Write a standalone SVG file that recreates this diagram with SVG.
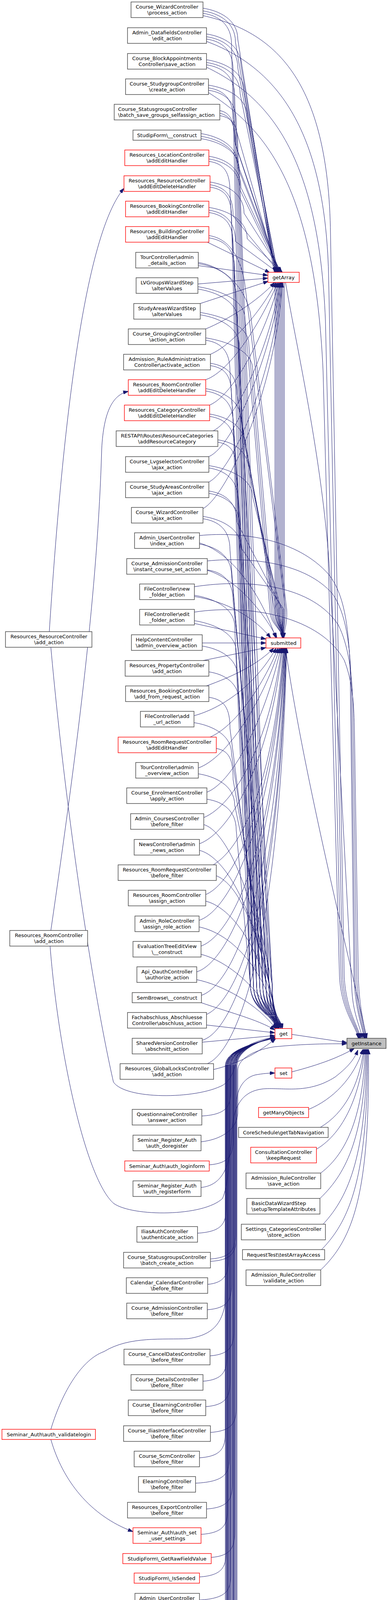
<svg xmlns="http://www.w3.org/2000/svg" width="992" height="5536" viewBox="0 0 992 5536">
<defs>
<marker id="a" markerWidth="13" markerHeight="9" refX="13" refY="4.5" orient="auto" markerUnits="userSpaceOnUse"><path d="M0,0 L13,4.5 L0,9 z" fill="#191970" stroke="#191970" stroke-width="1"/></marker>
<style>
.n rect{fill:#fff;stroke:#404040;stroke-width:1.4}
.r rect{fill:#fff;stroke:#ff0000;stroke-width:1.4}
.g rect{fill:#bfbfbf;stroke:#404040;stroke-width:1.4}
text{font-family:"DejaVu Sans","Liberation Sans",sans-serif;font-size:13px;fill:#000;text-anchor:middle}
text.l{text-anchor:start}
#edges path{fill:none;stroke:#191970;stroke-width:1;marker-end:url(#a)}
</style>
</defs>
<rect x="0" y="0" width="992" height="5536" fill="#fff"/>
<g id="edges">
<path d="M519,21 C559,27 608,49 608,101 L703,697"/>
<path d="M528,87 C568,93 616,115 616,167 L705,697"/>
<path d="M528,153 C568,159 624,181 624,233 L708,697"/>
<path d="M533,218 C573,224 632,246 632,298 L710,697"/>
<path d="M562,283 C590,289 600,311 600,363 L713,697"/>
<path d="M514,342 C554,348 608,370 608,422 L715,697"/>
<path d="M534,400 C574,406 616,428 616,480 L718,697"/>
<path d="M537,466 C577,472 624,494 624,546 L720,697"/>
<path d="M534,531 C574,537 632,559 632,611 L722,697"/>
<path d="M530,620 L690,698"/>
<path d="M507,680 L685,705"/>
<path d="M506,727 L685,712"/>
<path d="M512,777 L686,720"/>
<path d="M526,842 C580,820 660,770 702,723"/>
<path d="M538,907 C600,880 670,790 706,723"/>
<path d="M526,972 C590,950 670,820 710,723"/>
<path d="M536,1037 C600,1010 680,850 713,723"/>
<path d="M545,1103 C610,1070 690,880 716,723"/>
<path d="M534,1169 C600,1140 695,900 718,723"/>
<path d="M534,1234 C600,1200 700,950 720,723"/>
<path d="M519,1302 C580,1270 705,1000 722,723"/>
<path d="M519,28 C559,34 602,56 602,108 L703,710 L703,1560 C703,1600 722,1608 724,1633"/>
<path d="M528,94 C568,100 608,122 608,174 L706,710 L706,1560 C706,1600 722,1608 724,1633"/>
<path d="M528,160 C568,166 614,188 614,240 L709,710 L709,1560 C709,1600 722,1608 724,1633"/>
<path d="M533,225 C573,231 596,253 596,305 L712,710 L712,1560 C712,1600 722,1608 724,1633"/>
<path d="M562,290 C590,296 602,318 602,370 L715,710 L715,1560 C715,1600 722,1608 724,1633"/>
<path d="M514,349 C554,355 608,377 608,429 L718,710 L718,1560 C718,1600 722,1608 724,1633"/>
<path d="M534,407 C574,413 614,435 614,487 L721,710 L721,1560 C721,1600 722,1608 724,1633"/>
<path d="M537,473 C577,479 596,501 596,553 L724,710 L724,1560 C724,1600 722,1608 724,1633"/>
<path d="M534,538 C574,544 602,566 602,618 L727,710 L727,1560 C727,1600 724,1608 725,1633"/>
<path d="M534,603 C574,609 610,640 625,720 L730,1560 C730,1600 724,1608 725,1633"/>
<path d="M507,672 C560,680 620,720 640,800 L733,1560 C735,1600 726,1610 726,1633"/>
<path d="M506,734 C546,740 626,762 626,814 L690,1560 C690,1600 720,1608 722,1633"/>
<path d="M512,800 C552,806 636,828 636,880 L694,1560 C694,1600 720,1608 722,1633"/>
<path d="M526,865 C566,871 646,893 646,945 L698,1560 C698,1600 720,1608 722,1633"/>
<path d="M538,930 C578,936 606,958 606,1010 L702,1560 C702,1600 721,1608 723,1633"/>
<path d="M526,995 C566,1001 616,1023 616,1075 L706,1560 C706,1600 721,1608 723,1633"/>
<path d="M536,1060 C576,1066 626,1088 626,1140 L710,1560 C710,1600 722,1608 724,1633"/>
<path d="M557,1126 C597,1132 636,1154 636,1206 L714,1560 C714,1600 722,1608 724,1633"/>
<path d="M534,1192 C574,1198 646,1220 646,1272 L718,1560 C718,1600 722,1608 724,1633"/>
<path d="M534,1257 C574,1263 606,1285 606,1337 L722,1560 C722,1600 723,1608 724,1633"/>
<path d="M519,1322 C559,1328 616,1350 616,1402 L726,1560 C726,1600 724,1608 725,1633"/>
<path d="M510,1390 C580,1410 660,1500 705,1633"/>
<path d="M530,1460 C600,1480 670,1560 708,1633"/>
<path d="M497,1527 C580,1540 650,1580 692,1633"/>
<path d="M497,1596 L680,1636"/>
<path d="M517,1646 L680,1646"/>
<path d="M519,1691 L680,1658"/>
<path d="M525,1757 C600,1730 660,1700 700,1659"/>
<path d="M497,1832 C560,1815 650,1760 706,1659"/>
<path d="M537,1887 C600,1860 670,1760 711,1659"/>
<path d="M507,1966 C580,1940 670,1800 715,1659"/>
<path d="M529,2028 C600,2000 680,1830 718,1659"/>
<path d="M521,2093 C600,2060 690,1900 720,1659"/>
<path d="M510,2160 C590,2130 690,1950 722,1659"/>
<path d="M545,2214 C620,2170 700,2000 724,1659"/>
<path d="M526,2290 C600,2260 700,2050 726,1659"/>
<path d="M509,2356 C590,2330 700,2100 727,1659"/>
<path d="M514,2422 C600,2390 705,2150 728,1659"/>
<path d="M503,2488 C590,2460 705,2200 729,1659"/>
<path d="M515,2548 C600,2520 710,2250 730,1659"/>
<path d="M528,2597 C610,2560 712,2300 731,1659"/>
<path d="M517,2663 C600,2640 712,2350 732,1659"/>
<path d="M530,2723 C610,2690 715,2400 733,1659"/>
<path d="M519,34 C559,40 592,62 592,114 L648,2520 C648,2590 704,2600 710,2633"/>
<path d="M528,100 C568,106 596,128 596,180 L656,2520 C656,2590 708,2600 714,2633"/>
<path d="M528,166 C568,172 600,194 600,246 L664,2520 C664,2590 712,2600 718,2633"/>
<path d="M533,231 C573,237 604,259 604,311 L672,2520 C672,2590 716,2600 722,2633"/>
<path d="M562,296 C598,302 608,324 608,376 L680,2520 C680,2590 700,2600 706,2633"/>
<path d="M514,355 C554,361 612,383 612,435 L688,2520 C688,2590 704,2600 710,2633"/>
<path d="M534,413 C574,419 588,441 588,493 L696,2520 C696,2590 708,2600 714,2633"/>
<path d="M537,479 C577,485 592,507 592,559 L640,2520 C640,2590 712,2600 718,2633"/>
<path d="M534,544 C574,550 596,572 596,624 L648,2520 C648,2590 716,2600 722,2633"/>
<path d="M534,609 C574,615 600,637 600,689 L656,2520 C656,2590 700,2600 706,2633"/>
<path d="M507,675 C547,681 604,703 604,755 L664,2520 C664,2590 704,2600 710,2633"/>
<path d="M506,740 C546,746 608,768 608,820 L672,2520 C672,2590 708,2600 714,2633"/>
<path d="M512,806 C552,812 612,834 612,886 L680,2520 C680,2590 712,2600 718,2633"/>
<path d="M526,871 C566,877 588,899 588,951 L688,2520 C688,2590 716,2600 722,2633"/>
<path d="M538,936 C578,942 592,964 592,1016 L696,2520 C696,2590 700,2600 706,2633"/>
<path d="M526,1001 C566,1007 596,1029 596,1081 L640,2520 C640,2590 704,2600 710,2633"/>
<path d="M536,1066 C576,1072 600,1094 600,1146 L648,2520 C648,2590 708,2600 714,2633"/>
<path d="M557,1132 C594,1138 604,1160 604,1212 L656,2520 C656,2590 712,2600 718,2633"/>
<path d="M534,1198 C574,1204 608,1226 608,1278 L664,2520 C664,2590 716,2600 722,2633"/>
<path d="M534,1263 C574,1269 612,1291 612,1343 L672,2520 C672,2590 700,2600 706,2633"/>
<path d="M519,1328 C559,1334 588,1356 588,1408 L680,2520 C680,2590 704,2600 710,2633"/>
<path d="M510,1393 C550,1399 592,1421 592,1473 L688,2520 C688,2590 708,2600 714,2633"/>
<path d="M530,1459 C570,1465 596,1487 596,1539 L696,2520 C696,2590 712,2600 718,2633"/>
<path d="M497,1524 C537,1530 600,1552 600,1604 L640,2520 C640,2590 716,2600 722,2633"/>
<path d="M497,1589 C537,1595 604,1617 604,1669 L648,2520 C648,2590 700,2600 706,2633"/>
<path d="M517,1654 C557,1660 608,1682 608,1734 L656,2520 C656,2590 704,2600 710,2633"/>
<path d="M534,1720 C574,1726 612,1748 612,1800 L664,2520 C664,2590 708,2600 714,2633"/>
<path d="M534,1785 C574,1791 588,1813 588,1865 L672,2520 C672,2590 712,2600 718,2633"/>
<path d="M496,1850 C536,1856 592,1878 592,1930 L680,2520 C680,2590 716,2600 722,2633"/>
<path d="M553,1916 C586,1922 596,1944 596,1996 L688,2520 C688,2590 700,2600 706,2633"/>
<path d="M507,1981 C547,1987 600,2009 600,2061 L696,2520 C696,2590 704,2600 710,2633"/>
<path d="M529,2046 C569,2052 604,2074 604,2126 L640,2520 C640,2590 708,2600 714,2633"/>
<path d="M521,2111 C570,2125 650,2250 708,2633"/>
<path d="M510,2177 C565,2190 655,2300 710,2633"/>
<path d="M553,2242 C600,2260 660,2350 712,2633"/>
<path d="M526,2307 C580,2320 665,2400 714,2633"/>
<path d="M509,2373 C570,2385 670,2450 714,2633"/>
<path d="M514,2443 C580,2460 670,2530 710,2633"/>
<path d="M503,2508 C565,2520 660,2570 706,2635"/>
<path d="M512,2566 C580,2590 660,2610 703,2637"/>
<path d="M528,2624 L703,2644"/>
<path d="M517,2668 L703,2651"/>
<path d="M546,2738 C620,2720 665,2690 705,2659"/>
<path d="M516,2857 C580,2853 590,2832 590,2792 L590,2730 C590,2688 655,2668 704,2656"/>
<path d="M535,2982 C586,2978 596,2957 596,2917 L596,2730 C596,2688 658,2666 704,2655"/>
<path d="M505,3157 C568,3153 578,3132 578,3092 L578,2730 C578,2688 650,2670 704,2657"/>
<path d="M538,3223 C592,3219 602,3198 602,3158 L602,2730 C602,2688 660,2666 704,2655"/>
<path d="M538,3229 C594,3226 604,3205 604,3165 L604,2830 C604,2790 622,2760 652,2752 C672,2748 690,2747 703,2747"/>
<path d="M531,3288 C574,3284 584,3263 584,3223 L584,2730 C584,2688 652,2669 704,2656"/>
<path d="M530,3353 C582,3349 592,3328 592,3288 L592,2730 C592,2688 656,2667 704,2656"/>
<path d="M537,3471 C588,3467 598,3446 598,3406 L598,2730 C598,2688 658,2666 704,2655"/>
<path d="M519,3536 C570,3532 580,3511 580,3471 L580,2730 C580,2688 650,2670 704,2657"/>
<path d="M526,3601 C578,3597 588,3576 588,3536 L588,2730 C588,2688 654,2668 704,2656"/>
<path d="M538,3667 C594,3663 604,3642 604,3602 L604,2730 C604,2688 660,2665 704,2655"/>
<path d="M510,3732 C566,3728 576,3707 576,3667 L576,2730 C576,2688 648,2671 704,2657"/>
<path d="M500,3797 C576,3793 586,3772 586,3732 L586,2730 C586,2688 653,2669 704,2656"/>
<path d="M528,3863 C584,3859 594,3838 594,3798 L594,2730 C594,2688 657,2667 704,2656"/>
<path d="M514,3928 C572,3924 582,3903 582,3863 L582,2730 C582,2688 651,2669 704,2656"/>
<path d="M540,3987 C590,3983 600,3962 600,3922 L600,2730 C600,2688 659,2666 704,2655"/>
<path d="M510,4037 C568,4033 578,4012 578,3972 L578,2730 C578,2688 650,2670 704,2657"/>
<path d="M510,4096 C580,4092 590,4071 590,4031 L590,2730 C590,2688 655,2668 704,2656"/>
<path d="M509,4161 C574,4157 584,4136 584,4096 L584,2730 C584,2688 652,2669 704,2656"/>
<path d="M510,4227 C586,4223 596,4202 596,4162 L596,2730 C596,2688 658,2666 704,2655"/>
<path d="M537,4292 C592,4288 602,4267 602,4227 L602,2730 C602,2688 660,2666 704,2655"/>
<path d="M500,4357 C570,4353 580,4332 580,4292 L580,2730 C580,2688 650,2670 704,2657"/>
<path d="M507,4423 C578,4419 588,4398 588,4358 L588,2730 C588,2688 654,2668 704,2656"/>
<path d="M538,4488 C588,4484 598,4463 598,4423 L598,2730 C598,2688 658,2666 704,2655"/>
<path d="M528,4553 C576,4549 586,4528 586,4488 L586,2730 C586,2688 653,2669 704,2656"/>
<path d="M538,4619 C594,4615 604,4594 604,4554 L604,2730 C604,2688 660,2665 704,2655"/>
<path d="M516,4684 C572,4680 582,4659 582,4619 L582,2730 C582,2688 651,2669 704,2656"/>
<path d="M534,4749 C582,4745 592,4724 592,4684 L592,2730 C592,2688 656,2667 704,2656"/>
<path d="M515,4815 C568,4811 578,4790 578,4750 L578,2730 C578,2688 650,2670 704,2657"/>
<path d="M522,4880 C584,4876 594,4855 594,4815 L594,2730 C594,2688 657,2667 704,2656"/>
<path d="M522,4945 C574,4941 584,4920 584,4880 L584,2730 C584,2688 652,2669 704,2656"/>
<path d="M533,5011 C590,5007 600,4986 600,4946 L600,2730 C600,2688 659,2666 704,2655"/>
<path d="M521,5070 C570,5066 580,5045 580,5005 L580,2730 C580,2688 650,2670 704,2657"/>
<path d="M555,5128 C596,5124 606,5103 606,5063 L606,2730 C606,2688 661,2665 704,2655"/>
<path d="M530,5194 C578,5190 588,5169 588,5129 L588,2730 C588,2688 654,2668 704,2656"/>
<path d="M526,5259 C586,5255 596,5234 596,5194 L596,2730 C596,2688 658,2666 704,2655"/>
<path d="M530,5324 C572,5320 582,5299 582,5259 L582,2730 C582,2688 651,2669 704,2656"/>
<path d="M534,5383 C588,5379 598,5358 598,5318 L598,2730 C598,2688 658,2666 704,2655"/>
<path d="M531,5441 C580,5437 590,5416 590,5376 L590,2730 C590,2688 655,2668 704,2656"/>
<path d="M510,5507 C566,5503 576,5482 576,5442 L576,2730 C576,2688 648,2671 704,2657"/>
<path d="M519,40 C700,80 840,200 845,600 L880,2500 C885,2590 918,2630 922,2658"/>
<path d="M528,106 C700,170 830,320 840,700 L876,2500 C881,2590 916,2630 920,2658"/>
<path d="M528,172 C690,250 815,400 832,820 L872,2500 C877,2590 914,2630 918,2658"/>
<path d="M533,237 C680,330 805,480 826,950 L868,2500 C873,2590 912,2630 916,2658"/>
<path d="M510,1371 C620,1360 760,1380 840,1470 C880,1520 890,1600 895,1700 L905,2500 C908,2590 928,2630 930,2658"/>
<path d="M530,1436 C640,1425 780,1440 850,1520 C885,1570 895,1650 898,1750 L908,2500 C911,2590 930,2630 932,2658"/>
<path d="M497,1502 C640,1480 800,1500 865,1600 C890,1650 900,1720 902,1800 L912,2500 C915,2590 932,2630 934,2658"/>
<path d="M497,1567 C640,1545 820,1580 880,1690 C900,1740 905,1800 906,1860 L916,2500 C919,2590 934,2630 936,2658"/>
<path d="M730,723 C760,900 830,1200 845,1500 L900,2540 C904,2600 922,2630 926,2658"/>
<path d="M730,1659 C770,1950 880,2400 938,2658"/>
<path d="M746,2648 L887,2669"/>
<path d="M746,2744 C820,2725 870,2705 906,2684"/>
<path d="M514,2923 C560,2918 606,2895 608,2850 L608,2740 C608,2715 640,2690 700,2680 C780,2672 840,2672 887,2672"/>
<path d="M514,3040 C560,3035 590,3000 593,2900 C596,2830 620,2790 680,2787 C730,2785 790,2800 857,2757 C885,2735 905,2715 915,2688"/>
<path d="M789,2840 C850,2815 905,2760 928,2686"/>
<path d="M819,2886 C880,2850 918,2780 930,2686"/>
<path d="M809,2942 C880,2900 922,2800 932,2686"/>
<path d="M820,3003 C890,2950 928,2850 934,2686"/>
<path d="M818,3068 C890,3000 932,2900 936,2686"/>
<path d="M826,3134 C895,3060 936,2950 938,2686"/>
<path d="M822,3199 C900,3120 940,3000 940,2686"/>
<path d="M820,3251 C905,3170 946,3050 942,2686"/>
<path d="M126,1617 C150,1250 200,620 317,482"/>
<path d="M130,1657 C170,2100 240,2550 290,2770 C320,2815 500,2815 570,2778 C590,2765 600,2740 605,2710 C610,2680 660,2662 704,2654"/>
<path d="M130,2382 C200,1900 250,1500 260,1150 C265,1050 290,1010 328,1002"/>
<path d="M128,2422 C150,2700 220,3020 291,3081 C340,3115 520,3115 569,3068 C580,3040 585,3000 586,2950 L588,2730 C588,2688 655,2668 704,2656"/>
<path d="M130,3659 C160,3560 210,3480 266,3460 C330,3420 420,3430 480,3427 C530,3420 565,3400 575,3340 L580,2730 C580,2688 655,2668 704,2656"/>
<path d="M130,3685 C160,3790 230,3880 340,3921"/>
</g>
<g id="n1" class="n"><rect x="335" y="5" width="184" height="40"/><text x="427" y="22">Course_WizardController</text><text x="427" y="37">\process_action</text></g>
<g id="n2" class="n"><rect x="326" y="71" width="202" height="40"/><text x="427" y="88">Admin_DatafieldsController</text><text x="427" y="103">\edit_action</text></g>
<g id="n3" class="n"><rect x="326" y="137" width="202" height="40"/><text x="427" y="154">Course_BlockAppointments</text><text x="427" y="169">Controller\save_action</text></g>
<g id="n4" class="n"><rect x="321" y="202" width="212" height="40"/><text x="427" y="219">Course_StudygroupController</text><text x="427" y="234">\create_action</text></g>
<g id="n5" class="n"><rect x="292" y="267" width="270" height="40"/><text class="l" x="302" y="284">Course_StatusgroupsController</text><text class="l" x="302" y="299">\batch_save_groups_selfassign_action</text></g>
<g id="n6" class="n"><rect x="340" y="333" width="174" height="26"/><text x="427" y="351">StudipForm\__construct</text></g>
<g id="n7" class="r"><rect x="319" y="384" width="215" height="40"/><text x="427" y="401">Resources_LocationController</text><text x="427" y="416">\addEditHandler</text></g>
<g id="n8" class="r"><rect x="317" y="450" width="220" height="40"/><text x="427" y="467">Resources_ResourceController</text><text x="427" y="482">\addEditDeleteHandler</text></g>
<g id="n9" class="r"><rect x="321" y="515" width="213" height="40"/><text x="427" y="532">Resources_BookingController</text><text x="427" y="547">\addEditHandler</text></g>
<g id="n10" class="r"><rect x="321" y="580" width="213" height="40"/><text x="427" y="597">Resources_BuildingController</text><text x="427" y="612">\addEditHandler</text></g>
<g id="n11" class="n"><rect x="347" y="646" width="160" height="40"/><text x="427" y="663">TourController\admin</text><text x="427" y="678">_details_action</text></g>
<g id="n12" class="n"><rect x="348" y="711" width="158" height="40"/><text x="427" y="728">LVGroupsWizardStep</text><text x="427" y="743">\alterValues</text></g>
<g id="n13" class="n"><rect x="342" y="777" width="170" height="40"/><text x="427" y="794">StudyAreasWizardStep</text><text x="427" y="809">\alterValues</text></g>
<g id="n14" class="n"><rect x="328" y="842" width="198" height="40"/><text x="427" y="859">Course_GroupingController</text><text x="427" y="874">\action_action</text></g>
<g id="n15" class="n"><rect x="316" y="907" width="222" height="40"/><text x="427" y="924">Admission_RuleAdministration</text><text x="427" y="939">Controller\activate_action</text></g>
<g id="n16" class="r"><rect x="328" y="972" width="198" height="40"/><text x="427" y="989">Resources_RoomController</text><text x="427" y="1004">\addEditDeleteHandler</text></g>
<g id="n17" class="r"><rect x="318" y="1037" width="218" height="40"/><text x="427" y="1054">Resources_CategoryController</text><text x="427" y="1069">\addEditDeleteHandler</text></g>
<g id="n18" class="n"><rect x="297" y="1103" width="260" height="40"/><text x="427" y="1120">RESTAPI\Routes\ResourceCategories</text><text x="427" y="1135">\addResourceCategory</text></g>
<g id="n19" class="n"><rect x="321" y="1169" width="213" height="40"/><text x="427" y="1186">Course_LvgselectorController</text><text x="427" y="1201">\ajax_action</text></g>
<g id="n20" class="n"><rect x="321" y="1234" width="213" height="40"/><text x="427" y="1251">Course_StudyAreasController</text><text x="427" y="1266">\ajax_action</text></g>
<g id="n21" class="n"><rect x="336" y="1299" width="183" height="40"/><text x="427" y="1316">Course_WizardController</text><text x="427" y="1331">\ajax_action</text></g>
<g id="n22" class="n"><rect x="344" y="1364" width="166" height="40"/><text x="427" y="1381">Admin_UserController</text><text x="427" y="1396">\index_action</text></g>
<g id="n23" class="n"><rect x="324" y="1430" width="206" height="40"/><text x="427" y="1447">Course_AdmissionController</text><text x="427" y="1462">\instant_course_set_action</text></g>
<g id="n24" class="n"><rect x="357" y="1495" width="140" height="40"/><text x="427" y="1512">FileController\new</text><text x="427" y="1527">_folder_action</text></g>
<g id="n25" class="n"><rect x="357" y="1560" width="140" height="40"/><text x="427" y="1577">FileController\edit</text><text x="427" y="1592">_folder_action</text></g>
<g id="n26" class="n"><rect x="336" y="1625" width="181" height="40"/><text class="l" x="347" y="1642">HelpContentController</text><text class="l" x="347" y="1657">\admin_overview_action</text></g>
<g id="n27" class="n"><rect x="320" y="1691" width="214" height="40"/><text x="427" y="1708">Resources_PropertyController</text><text x="427" y="1723">\add_action</text></g>
<g id="n28" class="n"><rect x="321" y="1756" width="213" height="40"/><text x="427" y="1773">Resources_BookingController</text><text x="427" y="1788">\add_from_request_action</text></g>
<g id="n29" class="n"><rect x="359" y="1821" width="137" height="40"/><text x="427" y="1838">FileController\add</text><text x="427" y="1853">_url_action</text></g>
<g id="n30" class="r"><rect x="302" y="1887" width="251" height="40"/><text x="427" y="1904">Resources_RoomRequestController</text><text x="427" y="1919">\addEditHandler</text></g>
<g id="n31" class="n"><rect x="347" y="1952" width="160" height="40"/><text x="427" y="1969">TourController\admin</text><text x="427" y="1984">_overview_action</text></g>
<g id="n32" class="n"><rect x="324" y="2017" width="205" height="40"/><text x="427" y="2034">Course_EnrolmentController</text><text x="427" y="2049">\apply_action</text></g>
<g id="n33" class="n"><rect x="334" y="2083" width="187" height="40"/><text x="427" y="2100">Admin_CoursesController</text><text x="427" y="2115">\before_filter</text></g>
<g id="n34" class="n"><rect x="343" y="2149" width="167" height="40"/><text x="427" y="2166">NewsController\admin</text><text x="427" y="2181">_news_action</text></g>
<g id="n35" class="n"><rect x="302" y="2214" width="251" height="40"/><text x="427" y="2231">Resources_RoomRequestController</text><text x="427" y="2246">\before_filter</text></g>
<g id="n36" class="n"><rect x="328" y="2279" width="198" height="40"/><text x="427" y="2296">Resources_RoomController</text><text x="427" y="2311">\assign_action</text></g>
<g id="n37" class="n"><rect x="345" y="2345" width="164" height="40"/><text x="427" y="2362">Admin_RoleController</text><text x="427" y="2377">\assign_role_action</text></g>
<g id="n38" class="n"><rect x="340" y="2410" width="174" height="40"/><text x="427" y="2427">EvaluationTreeEditView</text><text x="427" y="2442">\__construct</text></g>
<g id="n39" class="n"><rect x="350" y="2475" width="153" height="40"/><text x="427" y="2492">Api_OauthController</text><text x="427" y="2507">\authorize_action</text></g>
<g id="n40" class="n"><rect x="338" y="2541" width="177" height="26"/><text x="427" y="2559">SemBrowse\__construct</text></g>
<g id="n41" class="n"><rect x="326" y="2592" width="202" height="40"/><text x="427" y="2609">Fachabschluss_Abschluesse</text><text x="427" y="2624">Controller\abschluss_action</text></g>
<g id="n42" class="n"><rect x="338" y="2658" width="179" height="40"/><text x="427" y="2675">SharedVersionController</text><text x="427" y="2690">\abschnitt_action</text></g>
<g id="n43" class="n"><rect x="307" y="2723" width="239" height="40"/><text x="427" y="2740">Resources_GlobalLocksController</text><text x="427" y="2755">\add_action</text></g>
<g id="n44" class="n"><rect x="338" y="2840" width="178" height="40"/><text x="427" y="2857">QuestionnaireController</text><text x="427" y="2872">\answer_action</text></g>
<g id="n45" class="n"><rect x="340" y="2906" width="174" height="40"/><text x="427" y="2923">Seminar_Register_Auth</text><text x="427" y="2938">\auth_doregister</text></g>
<g id="n46" class="r"><rect x="319" y="2972" width="216" height="26"/><text x="427" y="2990">Seminar_Auth\auth_loginform</text></g>
<g id="n47" class="n"><rect x="340" y="3023" width="174" height="40"/><text x="427" y="3040">Seminar_Register_Auth</text><text x="427" y="3055">\auth_registerform</text></g>
<g id="n48" class="n"><rect x="350" y="3140" width="155" height="40"/><text class="l" x="361" y="3157">IliasAuthController</text><text class="l" x="361" y="3172">\authenticate_action</text></g>
<g id="n49" class="n"><rect x="316" y="3206" width="222" height="40"/><text x="427" y="3223">Course_StatusgroupsController</text><text x="427" y="3238">\batch_create_action</text></g>
<g id="n50" class="n"><rect x="323" y="3271" width="208" height="40"/><text x="427" y="3288">Calendar_CalendarController</text><text x="427" y="3303">\before_filter</text></g>
<g id="n51" class="n"><rect x="324" y="3336" width="206" height="40"/><text x="427" y="3353">Course_AdmissionController</text><text x="427" y="3368">\before_filter</text></g>
<g id="n52" class="n"><rect x="317" y="3454" width="220" height="40"/><text x="427" y="3471">Course_CancelDatesController</text><text x="427" y="3486">\before_filter</text></g>
<g id="n53" class="n"><rect x="335" y="3519" width="184" height="40"/><text x="427" y="3536">Course_DetailsController</text><text x="427" y="3551">\before_filter</text></g>
<g id="n54" class="n"><rect x="328" y="3584" width="198" height="40"/><text x="427" y="3601">Course_ElearningController</text><text x="427" y="3616">\before_filter</text></g>
<g id="n55" class="n"><rect x="316" y="3650" width="222" height="40"/><text x="427" y="3667">Course_IliasInterfaceController</text><text x="427" y="3682">\before_filter</text></g>
<g id="n56" class="n"><rect x="343" y="3715" width="167" height="40"/><text x="427" y="3732">Course_ScmController</text><text x="427" y="3747">\before_filter</text></g>
<g id="n57" class="n"><rect x="354" y="3780" width="146" height="40"/><text x="427" y="3797">ElearningController</text><text x="427" y="3812">\before_filter</text></g>
<g id="n58" class="n"><rect x="326" y="3846" width="202" height="40"/><text x="427" y="3863">Resources_ExportController</text><text x="427" y="3878">\before_filter</text></g>
<g id="n59" class="r"><rect x="340" y="3911" width="174" height="40"/><text x="427" y="3928">Seminar_Auth\auth_set</text><text x="427" y="3943">_user_settings</text></g>
<g id="n60" class="r"><rect x="314" y="3977" width="226" height="26"/><text x="427" y="3995">StudipForm\_GetRawFieldValue</text></g>
<g id="n61" class="r"><rect x="343" y="4027" width="167" height="26"/><text x="427" y="4045">StudipForm\_IsSended</text></g>
<g id="n62" class="n"><rect x="345" y="4079" width="165" height="40"/><text x="427" y="4096">Admin_UserController</text><text x="427" y="4111">\activities_action</text></g>
<g id="n63" class="n"><rect x="345" y="4144" width="164" height="40"/><text x="427" y="4161">Admin_RoleController</text><text x="427" y="4176">\add_action</text></g>
<g id="n64" class="n"><rect x="343" y="4210" width="167" height="40"/><text x="427" y="4227">HelpContentController</text><text x="427" y="4242">\add_action</text></g>
<g id="n65" class="n"><rect x="317" y="4275" width="220" height="40"/><text x="427" y="4292">Admin_IliasInterfaceController</text><text x="427" y="4307">\save_action</text></g>
<g id="n66" class="n"><rect x="355" y="4340" width="145" height="40"/><text x="427" y="4357">StartController\add</text><text x="427" y="4372">_action</text></g>
<g id="n67" class="n"><rect x="347" y="4406" width="160" height="40"/><text class="l" x="358" y="4423">FileController\add</text><text class="l" x="358" y="4438">_files_window_action</text></g>
<g id="n68" class="n"><rect x="316" y="4471" width="222" height="40"/><text x="427" y="4488">Course_IliasInterfaceController</text><text x="427" y="4503">\add_groups_action</text></g>
<g id="n69" class="n"><rect x="326" y="4536" width="202" height="40"/><text x="427" y="4553">Course_BasicdataController</text><text x="427" y="4568">\add_member_action</text></g>
<g id="n70" class="n"><rect x="316" y="4602" width="222" height="40"/><text x="427" y="4619">Course_IliasInterfaceController</text><text x="427" y="4634">\add_object_action</text></g>
<g id="n71" class="n"><rect x="338" y="4667" width="178" height="40"/><text x="427" y="4684">QuestionnaireController</text><text x="427" y="4699">\add_question_action</text></g>
<g id="n72" class="n"><rect x="319" y="4732" width="215" height="40"/><text x="427" y="4749">Admin_SemClassesController</text><text x="427" y="4764">\add_sem_type_action</text></g>
<g id="n73" class="n"><rect x="339" y="4798" width="176" height="40"/><text x="427" y="4815">Course_DatesController</text><text x="427" y="4830">\add_topic_action</text></g>
<g id="n74" class="n"><rect x="331" y="4863" width="191" height="40"/><text x="427" y="4880">RESTAPI\Routes\Clipboard</text><text x="427" y="4895">\addClipboard</text></g>
<g id="n75" class="n"><rect x="331" y="4928" width="191" height="40"/><text x="427" y="4945">RESTAPI\Routes\Clipboard</text><text x="427" y="4960">\addClipboardItem</text></g>
<g id="n76" class="n"><rect x="321" y="4994" width="212" height="40"/><text x="427" y="5011">Calendar_ScheduleController</text><text x="427" y="5026">\addEntry_action</text></g>
<g id="n77" class="n"><rect x="333" y="5060" width="188" height="26"/><text x="427" y="5078">SearchWidget\addNeedle</text></g>
<g id="n78" class="n"><rect x="300" y="5111" width="255" height="40"/><text x="427" y="5128">RESTAPI\Routes\ResourceProperties</text><text x="427" y="5143">\addResourcePropertyDefinition</text></g>
<g id="n79" class="n"><rect x="324" y="5177" width="206" height="40"/><text x="427" y="5194">Course_AdmissionController</text><text x="427" y="5209">\after_filter</text></g>
<g id="n80" class="n"><rect x="328" y="5242" width="198" height="40"/><text x="427" y="5259">Settings_SettingsController</text><text x="427" y="5274">\after_filter</text></g>
<g id="n81" class="n"><rect x="324" y="5307" width="206" height="40"/><text x="427" y="5324">MultipersonsearchController</text><text x="427" y="5339">\ajax_search_action</text></g>
<g id="n82" class="n"><rect x="319" y="5373" width="215" height="26"/><text x="427" y="5391">StudipSemSearch\__construct</text></g>
<g id="n83" class="n"><rect x="323" y="5424" width="208" height="40"/><text x="427" y="5441">Institute_OverviewController</text><text x="427" y="5456">\before_filter</text></g>
<g id="n84" class="n"><rect x="343" y="5490" width="167" height="40"/><text x="427" y="5507">QuicksearchController</text><text x="427" y="5522">\response_action</text></g>
<g id="rra" class="n"><rect x="14" y="1617" width="221" height="40"/><text x="125" y="1634">Resources_ResourceController</text><text x="125" y="1649">\add_action</text></g>
<g id="rma" class="n"><rect x="25" y="2382" width="199" height="40"/><text x="125" y="2399">Resources_RoomController</text><text x="125" y="2414">\add_action</text></g>
<g id="sav" class="r"><rect x="5" y="3659" width="239" height="26"/><text x="125" y="3677">Seminar_Auth\auth_validatelogin</text></g>
<g id="getArray" class="r"><rect x="685" y="697" width="80" height="26"/><text x="725" y="715">getArray</text></g>
<g id="submitted" class="r"><rect x="680" y="1633" width="89" height="26"/><text x="725" y="1651">submitted</text></g>
<g id="get" class="r"><rect x="703" y="2633" width="43" height="26"/><text x="725" y="2651">get</text></g>
<g id="set" class="r"><rect x="703" y="2734" width="43" height="26"/><text x="725" y="2752">set</text></g>
<g id="getInstance" class="g"><rect x="887" y="2658" width="100" height="26"/><text x="937" y="2676">getInstance</text></g>
<g id="getManyObjects" class="r"><rect x="661" y="2835" width="128" height="26"/><text x="725" y="2853">getManyObjects</text></g>
<g id="coreSchedule" class="n"><rect x="610" y="2886" width="229" height="26"/><text x="725" y="2904">CoreSchedule\getTabNavigation</text></g>
<g id="consultation" class="r"><rect x="641" y="2937" width="168" height="40"/><text x="725" y="2954">ConsultationController</text><text x="725" y="2969">\keepRequest</text></g>
<g id="admSave" class="n"><rect x="629" y="3003" width="191" height="40"/><text x="725" y="3020">Admission_RuleController</text><text x="725" y="3035">\save_action</text></g>
<g id="basicData" class="n"><rect x="631" y="3068" width="187" height="40"/><text class="l" x="643" y="3085">BasicDataWizardStep</text><text class="l" x="643" y="3100">\setupTemplateAttributes</text></g>
<g id="settingsCat" class="n"><rect x="617" y="3134" width="215" height="40"/><text x="725" y="3151">Settings_CategoriesController</text><text x="725" y="3166">\store_action</text></g>
<g id="requestTest" class="n"><rect x="620" y="3199" width="210" height="26"/><text x="725" y="3217">RequestTest\testArrayAccess</text></g>
<g id="admValidate" class="n"><rect x="629" y="3251" width="191" height="40"/><text x="725" y="3268">Admission_RuleController</text><text x="725" y="3283">\validate_action</text></g>
</svg>
